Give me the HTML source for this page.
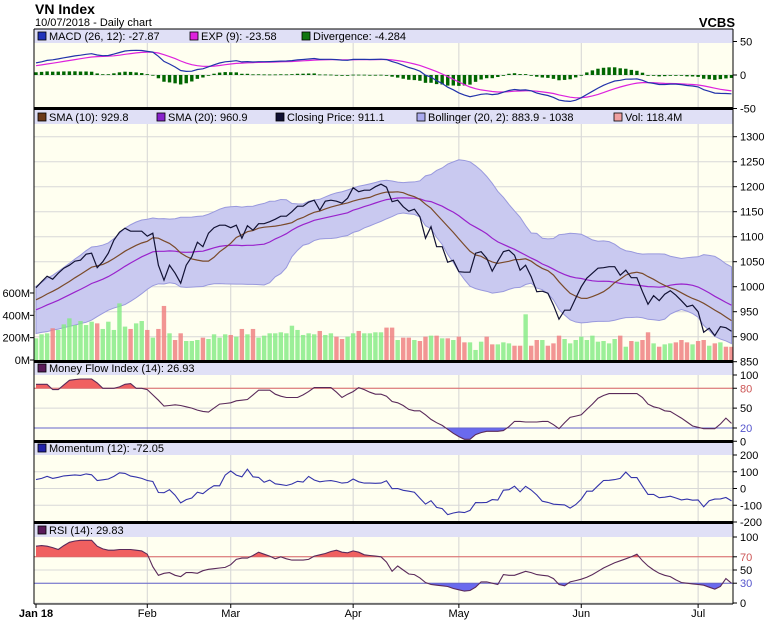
<!DOCTYPE html>
<html><head><meta charset="utf-8"><style>
html,body{margin:0;padding:0;background:#fff;}
svg{display:block;font-family:"Liberation Sans",Arial,sans-serif;}
</style></head><body>
<svg id="chart" width="766" height="630" viewBox="0 0 766 630" xmlns="http://www.w3.org/2000/svg">
<text x="35" y="14" font-size="14" font-weight="bold">VN Index</text>
<text x="35" y="26" font-size="11">10/07/2018 - Daily chart</text>
<text x="735" y="27" font-size="13" font-weight="bold" text-anchor="end">VCBS</text>
<g id="g"></g>
</svg>
<script>
const priorCloses=[915,920,925,930,928,935,940,945,950,948,955,960,962,965,970,975,978,985,990];
const closes=[998,1010,1021,1015,1027,1037,1043,1051,1053,1065,1067,1038,1050,1067,1093,1109,1117,1111,1111,1111,
1101,1107,1043,1013,1043,1027,1007,1043,1060,1089,1080,1107,1118,1123,1123,1118,1123,1097,1122,1113,
1126,1126,1130,1135,1141,1141,1150,1161,1161,1169,1173,1153,1171,1173,1171,1167,1177,1198,1190,1193,
1193,1200,1205,1199,1170,1173,1160,1151,1155,1140,1097,1120,1080,1080,1049,1053,1030,1029,1029,1067,
1070,1057,1031,1051,1070,1073,1063,1033,1043,1020,990,991,987,963,935,953,953,977,1000,1017,
1027,1037,1038,1040,1040,1023,1033,1018,1018,990,965,982,972,985,992,983,972,960,963,950,
909,917,902,920,918,911];
const volumes=[194,230,239,284,269,319,373,313,349,313,343,328,278,343,269,507,299,278,328,349,
269,200,278,484,239,179,239,170,170,179,200,188,230,200,230,224,209,278,230,278,
200,218,239,239,248,239,307,269,224,239,230,260,224,239,209,188,209,239,260,239,
239,248,248,290,290,179,200,200,179,170,209,218,218,194,194,179,209,158,158,90,
164,209,140,140,158,149,128,128,409,128,179,179,128,149,218,188,149,179,209,179,
218,164,170,149,188,218,119,170,164,179,248,149,119,140,149,158,179,158,140,170,
179,128,149,158,119,118];
const mfi=[86,86,86,78,78,85,92,93,94,94,94,88,80,80,80,82,86,87,80,80,
78,70,62,53,54,55,54,52,50,47,45,44,50,56,57,58,61,62,63,70,
77,77,77,71,68,66,66,66,70,75,81,81,81,81,74,66,71,75,81,78,
74,71,71,68,60,58,54,48,46,46,40,33,28,24,18,12,7,3,3,10,
13,15,15,15,16,22,30,30,29,29,29,30,30,25,19,28,36,38,40,48,
56,65,69,72,72,72,72,72,72,66,56,52,50,46,45,40,35,29,23,21,
19,19,19,26,35,27];
const rsi=[86,87,86,84,81,87,92,94,95,95,95,86,82,80,80,81,81,81,80,79,
74,55,42,45,46,42,40,46,46,45,49,51,52,53,54,58,66,68,68,72,
77,74,71,67,70,67,65,65,65,66,71,73,75,78,80,77,76,79,77,73,
72,71,70,62,48,56,50,44,43,38,31,28,27,26,25,22,20,18,19,24,
32,32,30,28,43,42,42,45,48,46,43,42,41,37,28,26,32,34,36,39,
43,48,53,57,61,64,67,70,74,64,56,50,45,42,40,35,31,30,29,28,
27,24,21,25,37,30];
const monthLabels=["Jan 18","Feb","Mar","Apr","May","Jun","Jul"];
const monthIdx=[0,20,35,57,76,98,119];
const priceTicks=[850,900,950,1000,1050,1100,1150,1200,1250,1300];
const volTicks=[0,200,400,600];
const macdTicks=[50,0,-50];
const mfiTicks=[100,80,50,20,0];
const momTicks=[200,100,0,-100,-200];
const rsiTicks=[100,70,50,30,0];

const NS="http://www.w3.org/2000/svg";
const G=document.getElementById('g');
const L=34,R=733,X0=36,N=closes.length,STEP=(731.5-X0)/(N-1);
const xOf=i=>X0+i*STEP;
const macdY=v=>75-v*0.67, priceY=v=>136.7+(1300-v)*0.5, volY=v=>360-v*0.1117;
const mfiY=v=>375+(100-v)*0.6625, momY=v=>488.5-v*0.1675, rsiY=v=>537+(100-v)*0.66;
function el(tag,attrs,parent){const e=document.createElementNS(NS,tag);for(const k in attrs)e.setAttribute(k,attrs[k]);(parent||G).appendChild(e);return e;}
function txt(x,y,s,attrs){const t=el('text',Object.assign({x:x,y:y,'font-size':11},attrs||{}));t.textContent=s;return t;}
function pts(arr,fy){return arr.map((v,i)=>xOf(i).toFixed(1)+','+fy(v).toFixed(1)).join(' ');}

// derived series
const all=priorCloses.concat(closes),off=priorCloses.length;
function smaAt(n,i){let s=0,c=0;for(let k=i-n+1;k<=i;k++){if(k>=0){s+=all[k];c++;}}return s/c;}
const sma10=[],sma20=[],bbU=[],bbL=[];
for(let i=0;i<N;i++){const j=i+off;sma10.push(smaAt(10,j));const m=smaAt(20,j);sma20.push(m);
 let s=0,c=0;for(let k=j-19;k<=j;k++){if(k>=0){s+=(all[k]-m)**2;c++;}}const sd=Math.sqrt(s/c);bbU.push(m+2*sd);bbL.push(m-2*sd);}
function ema(arr,n){const a=2/(n+1);const o=[arr[0]];for(let k=1;k<arr.length;k++)o.push(a*arr[k]+(1-a)*o[k-1]);return o;}
const e12=ema(all,12),e26=ema(all,26);const macdAll=e12.map((v,k)=>v-e26[k]);const sigAll=ema(macdAll,9);
const macd=macdAll.slice(off),sig=sigAll.slice(off),divg=macd.map((v,i)=>v-sig[i]);
const mom=closes.map((v,i)=>v-all[i+off-12]);

// panels
const panels=[{n:'macd',t:29,b:108,h:43},{n:'price',t:109,b:361,h:124},{n:'mfi',t:362,b:441,h:375},{n:'momentum',t:442,b:522,h:455},{n:'rsi',t:523,b:604,h:537}];
panels.forEach(p=>{
 const r=el('rect',{x:L,y:p.t,width:R-L,height:p.b-p.t,fill:'#fffff0'});
 
 const hb=el('rect',{x:L,y:p.t,width:R-L,height:p.h-p.t,fill:'#e0e0f6'});
 
 monthIdx.forEach((mi,k)=>{if(k>0)el('line',{x1:xOf(mi),x2:xOf(mi),y1:p.h,y2:p.b,stroke:'#d4d4d4','stroke-width':1});});
 const c=el('clipPath',{id:'clip-'+p.n});el('rect',{x:L,y:p.h,width:R-L,height:p.b-p.h},c);
});
function hgrid(ticks,fy,top,labelColor){ticks.forEach(v=>{const y=fy(v);if(y>top+0.5)el('line',{x1:L,x2:R,y1:y,y2:y,stroke:'#d8d8d8'});
 el('line',{x1:R,x2:R+4,y1:y,y2:y,stroke:'#000'});const t=txt(740,y+4,String(v),{fill:(labelColor&&labelColor[v])||'#000'});
 });}
hgrid(macdTicks,macdY,43);hgrid(priceTicks,priceY,124);hgrid(mfiTicks,mfiY,375,{80:'#cc5555',20:'#5555cc'});
hgrid(momTicks,momY,455);hgrid(rsiTicks,rsiY,537,{70:'#cc5555',30:'#5555cc'});
volTicks.forEach(v=>{const y=volY(v);el('line',{x1:L-4,x2:L,y1:y,y2:y,stroke:'#000'});const t=txt(30,y+4,v+'M',{'text-anchor':'end'});
 });

// MACD
const gm=el('g',{'clip-path':'url(#clip-macd)'});
divg.forEach((v,i)=>{const y0=macdY(0),y1=macdY(v);const b=el('rect',{x:xOf(i)-1.7,y:Math.min(y0,y1),width:3.4,height:Math.max(0.8,Math.abs(y1-y0)),fill:'#006600'},gm);
 });
let l=el('polyline',{points:pts(sig,macdY),fill:'none',stroke:'#dd22dd','stroke-width':1.2},gm);
l=el('polyline',{points:pts(macd,macdY),fill:'none',stroke:'#2233aa','stroke-width':1.2},gm);

// price panel
const gp=el('g',{'clip-path':'url(#clip-price)'});
const bandPts=bbU.map((v,i)=>xOf(i)+','+priceY(v)).concat(bbL.map((v,i)=>xOf(i)+','+priceY(v)).reverse()).join(' ');
l=el('polygon',{points:bandPts,fill:'#c9c9f0',stroke:'#9999dd','stroke-width':1},gp);
volumes.forEach((v,i)=>{const up=i===0?true:closes[i]>=closes[i-1];const b=el('rect',{x:xOf(i)-2.2,y:volY(v),width:4.4,height:360-volY(v),fill:up?'rgba(130,235,130,0.8)':'rgba(240,130,130,0.85)'},gp);
 });
l=el('polyline',{points:pts(sma20,priceY),fill:'none',stroke:'#9922cc','stroke-width':1.2},gp);
l=el('polyline',{points:pts(sma10,priceY),fill:'none',stroke:'#7a4a2a','stroke-width':1.2},gp);
l=el('polyline',{points:pts(closes,priceY),fill:'none',stroke:'#111133','stroke-width':1.2},gp);

// oscillator with threshold fills
function osc(name,arr,fy,hi,lo,lineColor){
 const g=el('g',{'clip-path':'url(#clip-'+name+')'});
 const yH=fy(hi),yL=fy(lo);
 const cH=el('clipPath',{id:'hi-'+name});el('rect',{x:L,y:0,width:R-L,height:yH},cH);
 const cL=el('clipPath',{id:'lo-'+name});el('rect',{x:L,y:yL,width:R-L,height:200},cL);
 const line=pts(arr,fy);
 let a=el('polygon',{points:xOf(0)+','+yH+' '+line+' '+xOf(N-1)+','+yH,fill:'#f06060','clip-path':'url(#hi-'+name+')'},g);
 a=el('polygon',{points:xOf(0)+','+yL+' '+line+' '+xOf(N-1)+','+yL,fill:'#6a6aee','clip-path':'url(#lo-'+name+')'},g);
 el('line',{x1:L,x2:R,y1:yH,y2:yH,stroke:'#dd6666'},g);el('line',{x1:L,x2:R,y1:yL,y2:yL,stroke:'#6666cc'},g);
 a=el('polyline',{points:line,fill:'none',stroke:lineColor,'stroke-width':1.1},g);
}
osc('mfi',mfi,mfiY,80,20,'#5a2a5a');
osc('rsi',rsi,rsiY,70,30,'#5a2a5a');
const gmo=el('g',{'clip-path':'url(#clip-momentum)'});
l=el('polyline',{points:pts(mom,momY),fill:'none',stroke:'#3333aa','stroke-width':1.1},gmo);

// borders
el('line',{x1:L,x2:L,y1:29,y2:604,stroke:'#000'});el('line',{x1:R,x2:R,y1:29,y2:604,stroke:'#000'});
el('line',{x1:L,x2:R,y1:29,y2:29,stroke:'#000'});el('line',{x1:L,x2:R,y1:604,y2:604,stroke:'#000'});
[108.5,361.5,441.5,522.5].forEach(y=>el('line',{x1:L,x2:R,y1:y,y2:y,stroke:'#000','stroke-width':3}));

// legends
function leg(x,y,color,s,name){const r=el('rect',{x:x,y:y-8,width:8,height:8,fill:color,stroke:'#000','stroke-width':0.8});
 
 const t=txt(x+11,y,s,{'font-size':11});}
leg(38,40,'#2233bb','MACD (26, 12): -27.87','macd');leg(190,40,'#dd22dd','EXP (9): -23.58','exp');leg(302,40,'#117711','Divergence: -4.284','divergence');
leg(38,121,'#6b3a1a','SMA (10): 929.8','sma10');leg(157,121,'#8822cc','SMA (20): 960.9','sma20');leg(276,121,'#111133','Closing Price: 911.1','closing-price');
leg(417,121,'#aaaaee','Bollinger (20, 2): 883.9 - 1038','bollinger');leg(614,121,'#f0a0a0','Vol: 118.4M','volume');
leg(38,372,'#5a1a5a','Money Flow Index (14): 26.93','mfi');leg(38,452,'#2222aa','Momentum (12): -72.05','momentum');leg(38,534,'#5a1a5a','RSI (14): 29.83','rsi');

// x axis
monthLabels.forEach((s,k)=>{const x=xOf(monthIdx[k]);el('line',{x1:x,x2:x,y1:604,y2:608,stroke:'#000'});
 const t=txt(x,617,s,{'text-anchor':'middle','font-weight':k===0?'bold':'normal'});
 });
</script>
</body></html>
